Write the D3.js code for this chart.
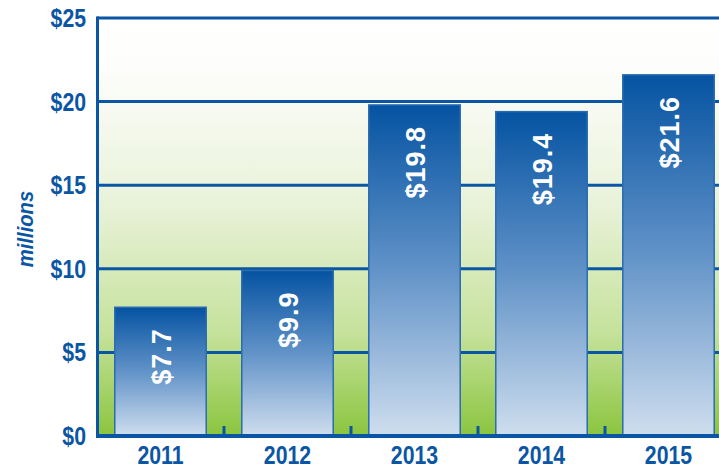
<!DOCTYPE html>
<meta charset="utf-8">
<style>
body { margin: 0; background: #fff; }
text { font-family: "Liberation Sans", Arial, sans-serif; font-weight: bold; fill: #0b56a4; }
.val { fill: #fff; font-size: 27px; letter-spacing: 1px; }
</style>
<svg width="719" height="468"></svg>
<script src="https://d3js.org/d3.v7.min.js"></script>
<script>

var years = ["2011", "2012", "2013", "2014", "2015"];
var values = [7.7, 9.9, 19.8, 19.4, 21.6];
var yTicks = [0, 5, 10, 15, 20, 25];

var svg = d3.select("svg"),
    blue = "#0b56a4",
    narrow = 0.85; // squeeze to look like a condensed face

var x = d3.scaleBand()
    .domain(years)
    .range([97, 732])
    .paddingInner(0.28)
    .paddingOuter(0.14);

var y = d3.scaleLinear()
    .domain([0, 25])
    .range([436, 18]);

var defs = svg.append("defs");

var bg = defs.append("linearGradient")
    .attr("id", "bg")
    .attr("x1", 0).attr("y1", 0).attr("x2", 0).attr("y2", 1);
bg.append("stop").attr("offset", "0").attr("stop-color", "#ffffff");
bg.append("stop").attr("offset", "0.12").attr("stop-color", "#fdfdfb");
bg.append("stop").attr("offset", "0.45").attr("stop-color", "#e8f2d8");
bg.append("stop").attr("offset", "0.75").attr("stop-color", "#c6e29c");
bg.append("stop").attr("offset", "1").attr("stop-color", "#8bc53f");

var barGrad = defs.append("linearGradient")
    .attr("id", "bar")
    .attr("x1", 0).attr("y1", 0).attr("x2", 0).attr("y2", 1);
barGrad.append("stop").attr("offset", "0").attr("stop-color", "#0553a2");
barGrad.append("stop").attr("offset", "0.5").attr("stop-color", "#6293c8");
barGrad.append("stop").attr("offset", "1").attr("stop-color", "#cfdeee");

// plot background
svg.append("rect")
    .attr("x", 97)
    .attr("y", y(25))
    .attr("width", 719 - 97)
    .attr("height", y(0) - y(25))
    .attr("fill", "url(#bg)");

// gridlines
svg.append("g")
  .selectAll("line")
  .data(yTicks.filter(function(d) { return d > 0; }))
  .enter().append("line")
    .attr("x1", 97)
    .attr("x2", 719)
    .attr("y1", function(d) { return y(d); })
    .attr("y2", function(d) { return y(d); })
    .attr("stroke", blue)
    .attr("stroke-width", 3);

// bars
svg.append("g")
  .selectAll("rect")
  .data(values)
  .enter().append("rect")
    .attr("x", function(d, i) { return x(years[i]); })
    .attr("y", function(d) { return y(d); })
    .attr("width", x.bandwidth())
    .attr("height", function(d) { return y(0) - y(d); })
    .attr("fill", "url(#bar)")
    .attr("stroke", "#2b6cb0")
    .attr("stroke-width", 1.5);

// value labels
svg.append("g")
  .selectAll("text")
  .data(values)
  .enter().append("text")
    .attr("class", "val")
    .attr("text-anchor", "end")
    .attr("transform", function(d, i) {
      return "translate(" + (x(years[i]) + x.bandwidth() / 2 + 10) + "," + (y(d) + 21) + ") rotate(-90)";
    })
    .text(function(d) { return "$" + d.toFixed(1); });

// left axis line
svg.append("line")
    .attr("x1", 97.5).attr("x2", 97.5)
    .attr("y1", y(25) - 1.5).attr("y2", y(0) + 2)
    .attr("stroke", blue)
    .attr("stroke-width", 3);

// bottom axis
svg.append("line")
    .attr("x1", 96).attr("x2", 719)
    .attr("y1", y(0)).attr("y2", y(0))
    .attr("stroke", blue)
    .attr("stroke-width", 4);

// ticks between categories
svg.append("g")
  .selectAll("line")
  .data(years.slice(1))
  .enter().append("line")
    .attr("x1", function(d) { return x(d) - x.step() * x.paddingInner() / 2; })
    .attr("x2", function(d) { return x(d) - x.step() * x.paddingInner() / 2; })
    .attr("y1", y(0))
    .attr("y2", y(0) - 10)
    .attr("stroke", blue)
    .attr("stroke-width", 3);

// y labels
svg.append("g")
  .selectAll("text")
  .data(yTicks)
  .enter().append("text")
    .attr("transform", function(d) { return "translate(86," + (y(d) + 9) + ") scale(" + narrow + ",1)"; })
    .attr("text-anchor", "end")
    .style("font-size", "25px")
    .text(function(d) { return "$" + d; });

// x labels
svg.append("g")
  .selectAll("text")
  .data(years)
  .enter().append("text")
    .attr("transform", function(d) { return "translate(" + (x(d) + x.bandwidth() / 2) + ",464) scale(" + narrow + ",1)"; })
    .attr("text-anchor", "middle")
    .style("font-size", "25px")
    .text(function(d) { return d; });

// axis title
svg.append("text")
    .attr("transform", "translate(33,229) rotate(-90) scale(0.92,1)")
    .attr("text-anchor", "middle")
    .style("font-size", "22px")
    .style("font-style", "italic")
    .text("millions");

</script>
